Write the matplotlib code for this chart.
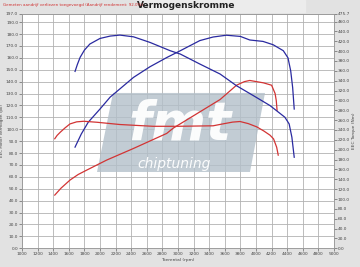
import matplotlib.pyplot as plt
from matplotlib.patches import Polygon
import numpy as np

# tuned power (pk)
rpm_pow_tuned = [1680, 1760, 1850, 2000, 2130, 2430, 2640, 2860, 3030, 3280, 3450, 3620, 3800, 3920, 4090, 4220, 4350, 4410, 4445, 4470, 4490]
pow_tuned = [85, 96, 106, 117, 127, 143.6, 152.5, 160.4, 166, 174.5, 177.5, 179, 178, 175, 173.8, 171, 166, 160, 149, 135, 117]

# tuned torque (Nm)
rpm_trq_tuned = [1680, 1710, 1745, 1800, 1870, 2000, 2130, 2255, 2430, 2640, 2900, 3030, 3280, 3540, 3750, 3965, 4180, 4370, 4425, 4460, 4490]
trq_tuned = [358.8, 373, 387.3, 402, 414.4, 425.7, 430.5, 432.5, 429, 417.7, 400.8, 394, 373.8, 353.5, 329.8, 309.8, 289.5, 265.9, 252.3, 225.3, 184.7]

# stock power (pk)
rpm_pow_stock = [1420, 1500, 1615, 1720, 1830, 2085, 2430, 2855, 2940, 3240, 3540, 3750, 3850, 3920, 4095, 4200, 4245, 4260, 4270]
pow_stock = [44.7, 50.5, 57.3, 62, 65.7, 74.1, 83.9, 96.5, 101, 113, 125, 137, 140, 141, 139, 137, 130, 124, 116]

# stock torque (Nm)
rpm_trq_stock = [1420, 1450, 1490, 1550, 1615, 1700, 1790, 1960, 2255, 2680, 3000, 3450, 3580, 3700, 3795, 3900, 4010, 4100, 4180, 4225, 4265, 4285]
trq_stock = [222.2, 229, 235.4, 244, 252.3, 256.5, 257.7, 255.7, 251.1, 247.5, 247.5, 248.5, 252.5, 256, 257.2, 253, 246.3, 238, 229.4, 222, 205, 189]

left_max = 197.0
right_max = 475.7

fig = plt.figure(figsize=(3.6, 2.67), dpi=100)
fig.patch.set_facecolor('#e2e2e2')
ax = fig.add_axes([22 / 360, 1 - 248.3 / 267, 312 / 360, 234.5 / 267])
ax2 = ax.twinx()

# header band
fig.patches.append(plt.Rectangle((140 / 360, 1 - 12 / 267), 165 / 360, 12 / 267,
                                 transform=fig.transFigure, color='#ececec', zorder=0))

ax.set_xlim(1000, 5000)
ax.set_ylim(0, left_max)
ax2.set_ylim(0, right_max)

xt = np.arange(1000, 5001, 200)
ax.set_xticks(xt)
ax.set_xticklabels([str(v) for v in xt])
lt = list(np.arange(0, 191, 10)) + [left_max]
ax.set_yticks(lt)
ax.set_yticklabels(['%.1f' % v for v in lt])
rt = list(np.arange(0, 461, 20)) + [right_max]
ax2.set_yticks(rt)
ax2.set_yticklabels(['%.1f' % v for v in rt])

ax.grid(True, color='#b2b2b2', linewidth=0.6)
ax.set_axisbelow(True)
for a in (ax, ax2):
    a.tick_params(labelsize=3.1, length=2, width=0.4, pad=0.8, colors='#444444')
    for s in a.spines.values():
        s.set_linewidth(0.5)
        s.set_color('#999999')

# watermark logo
x0 = 1000 + (97 - 22) * 4000 / 312
x1 = 1000 + (113 - 22) * 4000 / 312
x2 = 1000 + (265 - 22) * 4000 / 312
x3 = 1000 + (250 - 22) * 4000 / 312
yb = (248.3 - 172) / 1.19
yt = (248.3 - 93) / 1.19
ax.add_patch(Polygon([[x0, yb], [x1, yt], [x2, yt], [x3, yb]], closed=True,
                     facecolor='#b3c0ca', alpha=0.8, edgecolor='none', zorder=1))
ax.text(3030, 104, 'fmt', fontsize=38, fontweight='bold', style='italic', color='white',
        ha='center', va='center', zorder=1, alpha=0.95)
ax.text(2950, 71, 'chiptuning', fontsize=10, style='italic', color='white',
        ha='center', va='center', zorder=1, alpha=0.95)

blue = '#2a2aa0'
red = '#d23434'
ax.plot(rpm_pow_tuned, pow_tuned, color=blue, linewidth=0.9, zorder=3)
ax.plot(rpm_pow_stock, pow_stock, color=red, linewidth=0.9, zorder=3)
ax2.plot(rpm_trq_tuned, trq_tuned, color=blue, linewidth=0.9, zorder=3)
ax2.plot(rpm_trq_stock, trq_stock, color=red, linewidth=0.9, zorder=3)

ax.set_xlabel('Toerental (rpm)', fontsize=3.2, labelpad=1, color='#444444')
fig.text(2.5 / 360, 1 - 130 / 267, 'EEC Motor Vermogen (pk)', fontsize=3.0, rotation=90,
         ha='center', va='center', color='#444444')
ax2.set_ylabel('EEC Torque (Nm)', fontsize=3.2, labelpad=1, color='#444444')

fig.text(186 / 360, 1 - 6 / 267, 'Vermogenskromme', fontsize=6.5, fontweight='bold',
         ha='center', va='center', color='#222222')
fig.text(3 / 360, 1 - 5 / 267, 'Gemeten aandrijf verliezen toegevoegd (Aandrijf rendement: 92.0%)',
         fontsize=2.9, ha='left', va='center', color='#d03030')

fig.savefig('out.png', dpi=100, facecolor=fig.get_facecolor())
